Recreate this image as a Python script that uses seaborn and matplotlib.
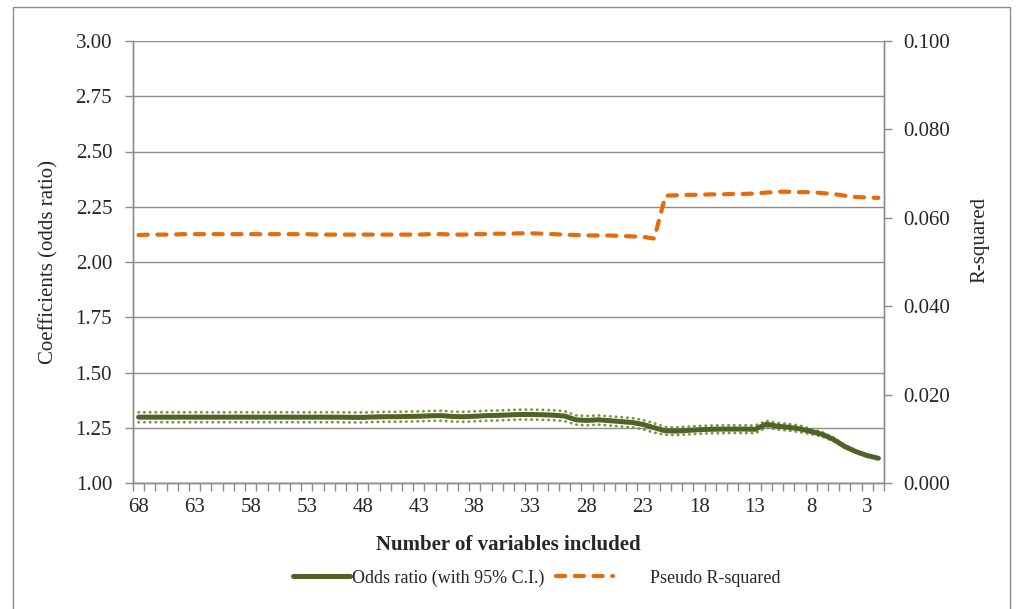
import matplotlib
matplotlib.use("Agg")
import matplotlib.pyplot as plt
from matplotlib.patches import Rectangle
import seaborn as sns

# Number of variables in each model (stepwise removal, 68 down to 2)
n_vars = list(range(68, 1, -1))

# Odds ratio estimate for each model
odds_ratio = [
    1.298, 1.298, 1.298, 1.298, 1.298, 1.298, 1.298, 1.298, 1.298, 1.298,
    1.298, 1.298, 1.298, 1.298, 1.298, 1.298, 1.298, 1.298, 1.298, 1.297,
    1.297, 1.299, 1.300, 1.300, 1.301, 1.302, 1.304, 1.305, 1.301, 1.300,
    1.302, 1.305, 1.306, 1.308, 1.310, 1.310, 1.309, 1.307, 1.303, 1.286,
    1.283, 1.286, 1.282, 1.278, 1.274, 1.265, 1.250, 1.236, 1.235, 1.238,
    1.241, 1.243, 1.244, 1.244, 1.244, 1.243, 1.266, 1.257, 1.252, 1.245,
    1.233, 1.220, 1.197, 1.165, 1.142, 1.124, 1.112,
]

# Upper bound of the 95% confidence interval
ci_upper = [
    1.320, 1.320, 1.320, 1.320, 1.320, 1.320, 1.320, 1.320, 1.320, 1.320,
    1.320, 1.320, 1.320, 1.320, 1.320, 1.320, 1.320, 1.320, 1.320, 1.319,
    1.319, 1.321, 1.322, 1.322, 1.323, 1.324, 1.326, 1.327, 1.323, 1.322,
    1.324, 1.327, 1.328, 1.330, 1.332, 1.332, 1.331, 1.329, 1.325, 1.306,
    1.303, 1.306, 1.302, 1.298, 1.294, 1.285, 1.270, 1.253, 1.252, 1.255,
    1.258, 1.260, 1.261, 1.261, 1.261, 1.260, 1.281, 1.272, 1.267, 1.260,
    1.245, 1.230, 1.205, 1.171, 1.147, 1.128, 1.115,
]

# Lower bound of the 95% confidence interval
ci_lower = [
    1.275, 1.275, 1.275, 1.275, 1.275, 1.275, 1.275, 1.275, 1.275, 1.275,
    1.275, 1.275, 1.275, 1.275, 1.275, 1.275, 1.275, 1.275, 1.275, 1.274,
    1.274, 1.276, 1.277, 1.277, 1.278, 1.279, 1.281, 1.282, 1.278, 1.277,
    1.279, 1.282, 1.283, 1.285, 1.287, 1.287, 1.286, 1.284, 1.280, 1.264,
    1.261, 1.264, 1.260, 1.256, 1.252, 1.243, 1.228, 1.218, 1.217, 1.220,
    1.223, 1.225, 1.226, 1.226, 1.226, 1.225, 1.251, 1.242, 1.237, 1.230,
    1.221, 1.210, 1.189, 1.159, 1.137, 1.120, 1.109,
]

# Pseudo R-squared of each model
pseudo_r2 = [
    0.0561, 0.0562, 0.0562, 0.0562, 0.0563, 0.0563, 0.0563, 0.0563, 0.0563, 0.0563,
    0.0563, 0.0563, 0.0563, 0.0563, 0.0563, 0.0563, 0.0562, 0.0562, 0.0562, 0.0562,
    0.0562, 0.0562, 0.0562, 0.0562, 0.0562, 0.0562, 0.0563, 0.0563, 0.0562, 0.0562,
    0.0563, 0.0563, 0.0564, 0.0564, 0.0565, 0.0565, 0.0564, 0.0563, 0.0562, 0.0561,
    0.0560, 0.0560, 0.0560, 0.0559, 0.0558, 0.0557, 0.0553, 0.0650, 0.0651, 0.0652,
    0.0652, 0.0653, 0.0653, 0.0654, 0.0654, 0.0655, 0.0657, 0.0659, 0.0659, 0.0658,
    0.0658, 0.0656, 0.0654, 0.0650, 0.0647, 0.0646, 0.0645,
]

left_ticks = [1.00, 1.25, 1.50, 1.75, 2.00, 2.25, 2.50, 2.75, 3.00]
right_ticks = [0.000, 0.020, 0.040, 0.060, 0.080, 0.100]
x_labels = [68, 63, 58, 53, 48, 43, 38, 33, 28, 23, 18, 13, 8, 3]

GREEN = "#4F6228"
LIGHT_GREEN = "#77933C"
ORANGE = "#E46C0A"
GREY = "#8C8C8C"
FS = 15

sns.set_style("white")
plt.rcParams["font.family"] = ["Liberation Serif", "DejaVu Serif"]
plt.rcParams["font.size"] = FS

fig = plt.figure(figsize=(10.17, 6.09), dpi=100)
ax = fig.add_axes([133 / 1017, 1 - 483 / 609, (884 - 133) / 1017, (483 - 41) / 609])
ax2 = ax.twinx()

# Confidence interval bounds (dotted) and the odds ratio line
dot_style = dict(color=LIGHT_GREEN, lw=2.0, linestyle=(0, (0.1, 1.95)),
                 dash_capstyle="round", sort=False)
sns.lineplot(x=n_vars, y=ci_upper, ax=ax, **dot_style)
sns.lineplot(x=n_vars, y=ci_lower, ax=ax, **dot_style)
sns.lineplot(x=n_vars, y=odds_ratio, ax=ax, color=GREEN, lw=3.6,
             solid_capstyle="round", sort=False,
             label="Odds ratio (with 95% C.I.)")

# Pseudo R-squared on the secondary axis
sns.lineplot(x=n_vars, y=pseudo_r2, ax=ax2, color=ORANGE, lw=3.0,
             linestyle=(0, (2.2, 2.3)), dash_capstyle="round", sort=False,
             label="Pseudo R-squared")

for a in (ax, ax2):
    leg = a.get_legend()
    if leg is not None:
        leg.remove()

# Primary axis
ax.set_xlim(68.5, 1.5)
ax.set_ylim(1.0, 3.0)
ax.set_yticks(left_ticks)
ax.set_yticklabels([f"{v:.2f}" for v in left_ticks])
ax.set_xticks(x_labels)
ax.set_xticklabels([str(v) for v in x_labels])
ax.set_xticks([v + 0.5 for v in range(68, 1, -1)] + [1.5], minor=True)
ax.tick_params(axis="x", which="major", length=0, pad=11, labelsize=FS)
ax.tick_params(axis="x", which="minor", length=6, width=1, color=GREY,
               direction="out", bottom=True)
ax.tick_params(axis="y", which="major", length=6, width=1, color=GREY,
               direction="out", left=True, pad=9, labelsize=FS)
ax.grid(axis="y", color=GREY, lw=1)
ax.set_axisbelow(True)

# Secondary axis
ax2.set_ylim(0.0, 0.1)
ax2.set_yticks(right_ticks)
ax2.set_yticklabels([f"{v:.3f}" for v in right_ticks])
ax2.tick_params(axis="y", length=6, width=1, color=GREY, direction="out",
                right=True, pad=8, labelsize=FS)
ax2.grid(False)

for a in (ax, ax2):
    for side in ("left", "right", "bottom"):
        a.spines[side].set_visible(True)
        a.spines[side].set_color(GREY)
        a.spines[side].set_linewidth(1)
    a.spines["top"].set_visible(False)

ax.set_xlabel("Number of variables included", fontweight="bold", fontsize=FS,
              labelpad=13)
ax.set_ylabel("Coefficients (odds ratio)", fontsize=FS, labelpad=12)
ax2.set_ylabel("R-squared", fontsize=FS)
ax2.yaxis.set_label_coords(1 + (970 - 884) / 751, (483 - 240) / 442)

handles = ax.get_lines()[2:3] + ax2.get_lines()[0:1]
labels = ["Odds ratio (with 95% C.I.)", "        Pseudo R-squared"]
fig.legend(handles, labels, loc="center", bbox_to_anchor=(537 / 1017, 1 - 578 / 609),
           ncol=2, frameon=False, fontsize=13, handlelength=3.15,
           handletextpad=0.1, columnspacing=0.65)

# Frame around the whole chart
fig.patches.append(Rectangle((13 / 1017, -0.05), (1010 - 13) / 1017, 1.05 - 7 / 609,
                             transform=fig.transFigure, fill=False,
                             edgecolor=GREY, lw=1))

fig.savefig("out.png", dpi=100, facecolor="white")
